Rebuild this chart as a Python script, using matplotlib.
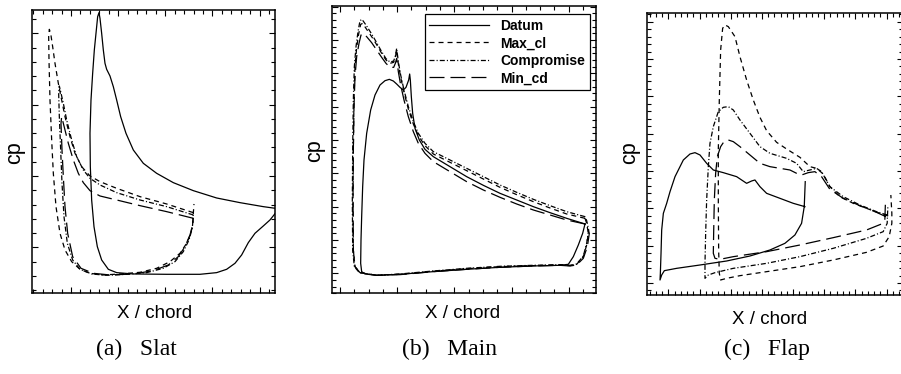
import matplotlib
matplotlib.use("Agg")
import matplotlib.pyplot as plt
from matplotlib.ticker import MultipleLocator

plt.rcParams['font.family'] = ['Liberation Sans', 'DejaVu Sans']
plt.rcParams['lines.scale_dashes'] = False

# ---- Slat surface pressure ----
slat_datum_x = [0.826, 0.790, 0.720, 0.650, 0.580, 0.520, 0.470, 0.430, 0.400, 0.378, 0.362, 0.350,
                0.340, 0.330, 0.320, 0.315, 0.310, 0.305, 0.300, 0.297, 0.293, 0.288, 0.283, 0.278,
                0.273, 0.270, 0.271, 0.275, 0.282, 0.292, 0.305, 0.325, 0.350, 0.400, 0.500, 0.600,
                0.650, 0.680, 0.705, 0.725, 0.745, 0.765, 0.790, 0.810, 0.826]
slat_datum_cp = [-0.95, -1.00, -1.12, -1.26, -1.48, -1.72, -2.00, -2.30, -2.70, -3.20, -3.70, -4.20,
                 -4.60, -4.92, -5.12, -5.30, -5.70, -6.20, -6.65, -6.82, -6.70, -6.20, -5.70, -5.00,
                 -4.20, -3.20, -2.20, -1.20, -0.40, 0.20, 0.60, 0.88, 0.98, 1.02, 1.03, 1.03,
                 0.98, 0.88, 0.70, 0.45, 0.08, -0.20, -0.42, -0.60, -0.80]
slat_maxcl_x = [0.580, 0.500, 0.420, 0.350, 0.300, 0.270, 0.245, 0.225, 0.210, 0.195, 0.185, 0.175,
                0.165, 0.158, 0.152, 0.148, 0.146, 0.147, 0.150, 0.155, 0.160, 0.168, 0.180, 0.195,
                0.215, 0.240, 0.270, 0.310, 0.360, 0.420, 0.470, 0.510, 0.540, 0.560, 0.573, 0.578,
                0.580, 0.582]
slat_maxcl_cp = [-0.82, -1.08, -1.30, -1.55, -1.75, -1.92, -2.20, -2.60, -3.10, -3.70, -4.20, -4.70,
                 -5.30, -5.80, -6.20, -6.32, -6.10, -5.40, -4.20, -3.00, -2.00, -1.00, -0.20, 0.30,
                 0.65, 0.88, 1.00, 1.05, 1.02, 0.97, 0.85, 0.65, 0.40, 0.10, -0.20, -0.50,
                 -0.80, -1.08]
slat_comp_x = [0.580, 0.500, 0.420, 0.350, 0.300, 0.270, 0.250, 0.230, 0.215, 0.200, 0.190, 0.182,
               0.178, 0.176, 0.178, 0.182, 0.186, 0.192, 0.202, 0.218, 0.240, 0.275, 0.320, 0.380,
               0.440, 0.490, 0.525, 0.550, 0.567, 0.577, 0.580]
slat_comp_cp = [-0.75, -1.00, -1.20, -1.42, -1.65, -1.85, -2.10, -2.50, -3.00, -3.60, -4.10, -4.45,
                -4.62, -4.40, -3.70, -2.70, -1.70, -0.70, 0.10, 0.60, 0.88, 1.02, 1.06, 1.03,
                0.98, 0.85, 0.65, 0.35, 0.00, -0.35, -0.75]
slat_mincd_x = [0.580, 0.500, 0.420, 0.350, 0.300, 0.270, 0.250, 0.235, 0.220, 0.205, 0.195, 0.188,
                0.185, 0.183, 0.186, 0.190, 0.195, 0.203, 0.218, 0.243, 0.280, 0.330, 0.400, 0.460,
                0.505, 0.535, 0.555, 0.570, 0.578, 0.580]
slat_mincd_cp = [-0.65, -0.85, -1.03, -1.20, -1.32, -1.48, -1.72, -2.00, -2.40, -2.90, -3.30, -3.58,
                 -3.70, -3.50, -2.70, -1.90, -1.00, -0.20, 0.50, 0.85, 1.00, 1.05, 1.02, 0.92,
                 0.75, 0.50, 0.20, -0.15, -0.45, -0.65]

# ---- Main element surface pressure ----
main_datum_x = [0.855, 0.800, 0.750, 0.700, 0.650, 0.600, 0.550, 0.500, 0.450, 0.400, 0.375, 0.358,
                0.345, 0.338, 0.334, 0.331, 0.329, 0.326, 0.318, 0.310, 0.300, 0.290, 0.280, 0.268,
                0.255, 0.240, 0.225, 0.212, 0.200, 0.192, 0.188, 0.185, 0.183, 0.182, 0.185, 0.195,
                0.230, 0.300, 0.400, 0.500, 0.600, 0.700, 0.780, 0.805, 0.820, 0.835, 0.848, 0.855]
main_datum_cp = [-0.48, -0.65, -0.82, -1.00, -1.20, -1.40, -1.64, -1.90, -2.20, -2.50, -2.72, -3.00,
                 -3.35, -3.80, -4.30, -4.80, -4.98, -4.80, -4.58, -4.50, -4.58, -4.68, -4.77, -4.82,
                 -4.78, -4.65, -4.35, -3.90, -3.20, -2.40, -1.60, -0.70, 0.00, 0.70, 0.95, 1.02,
                 1.06, 1.03, 0.95, 0.88, 0.82, 0.78, 0.76, 0.73, 0.50, 0.15, -0.20, -0.48]
main_maxcl_x = [0.855, 0.800, 0.750, 0.700, 0.650, 0.600, 0.550, 0.500, 0.450, 0.400, 0.375, 0.355,
                0.340, 0.325, 0.312, 0.302, 0.295, 0.290, 0.286, 0.281, 0.270, 0.258, 0.245, 0.230,
                0.215, 0.200, 0.188, 0.182, 0.176, 0.170, 0.165, 0.162, 0.160, 0.159, 0.160, 0.165,
                0.180, 0.230, 0.300, 0.400, 0.500, 0.600, 0.700, 0.780, 0.810, 0.830, 0.850, 0.860,
                0.865, 0.860, 0.855]
main_maxcl_cp = [-0.65, -0.78, -0.96, -1.15, -1.36, -1.58, -1.83, -2.08, -2.33, -2.58, -2.83, -3.13,
                 -3.48, -3.93, -4.43, -4.88, -5.28, -5.70, -5.48, -5.33, -5.30, -5.40, -5.60, -5.86,
                 -6.10, -6.32, -6.50, -6.47, -6.18, -5.78, -5.20, -4.20, -2.70, -1.20, 0.30, 0.80,
                 0.98, 1.06, 1.03, 0.94, 0.86, 0.80, 0.77, 0.75, 0.77, 0.73, 0.50, 0.15,
                 -0.20, -0.50, -0.65]
main_comp_x = [0.855, 0.800, 0.750, 0.700, 0.650, 0.600, 0.550, 0.500, 0.450, 0.400, 0.375, 0.355,
               0.340, 0.325, 0.312, 0.302, 0.295, 0.290, 0.286, 0.281, 0.270, 0.258, 0.245, 0.230,
               0.215, 0.200, 0.186, 0.180, 0.174, 0.168, 0.163, 0.160, 0.158, 0.157, 0.158, 0.163,
               0.178, 0.230, 0.300, 0.400, 0.500, 0.600, 0.700, 0.780, 0.810, 0.830, 0.850, 0.860,
               0.866, 0.860, 0.855]
main_comp_cp = [-0.70, -0.85, -1.03, -1.22, -1.43, -1.65, -1.90, -2.15, -2.40, -2.65, -2.90, -3.20,
                -3.55, -4.00, -4.50, -4.95, -5.35, -5.75, -5.52, -5.37, -5.34, -5.44, -5.65, -5.92,
                -6.18, -6.42, -6.62, -6.58, -6.25, -5.80, -5.20, -4.20, -2.70, -1.20, 0.30, 0.80,
                0.98, 1.06, 1.02, 0.93, 0.85, 0.79, 0.76, 0.74, 0.76, 0.72, 0.48, 0.10,
                -0.30, -0.58, -0.70]
main_mincd_x = [0.855, 0.800, 0.750, 0.700, 0.650, 0.600, 0.550, 0.500, 0.450, 0.400, 0.375, 0.355,
                0.340, 0.325, 0.312, 0.302, 0.295, 0.290, 0.286, 0.281, 0.270, 0.258, 0.245, 0.230,
                0.215, 0.200, 0.190, 0.183, 0.177, 0.170, 0.165, 0.162, 0.160, 0.159, 0.160, 0.165,
                0.180, 0.230, 0.300, 0.400, 0.500, 0.600, 0.700, 0.780, 0.810, 0.830, 0.850, 0.862,
                0.868, 0.862, 0.855]
main_mincd_cp = [-0.48, -0.60, -0.75, -0.90, -1.08, -1.28, -1.50, -1.75, -2.05, -2.35, -2.60, -2.90,
                 -3.25, -3.70, -4.20, -4.65, -5.05, -5.45, -5.30, -5.18, -5.18, -5.30, -5.48, -5.70,
                 -5.92, -6.10, -6.20, -6.15, -5.90, -5.50, -4.90, -4.00, -2.70, -1.20, 0.30, 0.80,
                 0.98, 1.06, 1.04, 0.95, 0.88, 0.82, 0.78, 0.76, 0.78, 0.75, 0.55, 0.20,
                 -0.20, -0.40, -0.48]

# ---- Flap surface pressure ----
flap_datum_x = [0.615, 0.580, 0.540, 0.500, 0.480, 0.465, 0.455, 0.440, 0.410, 0.370, 0.340, 0.320,
                0.300, 0.285, 0.270, 0.250, 0.225, 0.210, 0.200, 0.190, 0.185, 0.183, 0.181, 0.180,
                0.185, 0.193, 0.230, 0.300, 0.380, 0.450, 0.510, 0.555, 0.585, 0.605, 0.613, 0.615,
                0.616]
flap_datum_cp = [-1.00, -1.10, -1.25, -1.40, -1.60, -1.80, -1.77, -1.70, -1.90, -2.02, -2.10, -2.30,
                 -2.55, -2.62, -2.58, -2.40, -1.90, -1.45, -1.10, -0.80, -0.30, 0.40, 1.00, 1.20,
                 1.05, 0.92, 0.85, 0.75, 0.63, 0.48, 0.30, 0.10, -0.15, -0.50, -1.00, -1.50,
                 -1.75]
flap_maxcl_x = [0.865, 0.840, 0.800, 0.760, 0.720, 0.690, 0.670, 0.650, 0.630, 0.600, 0.560, 0.530,
                0.500, 0.480, 0.460, 0.440, 0.420, 0.405, 0.395, 0.385, 0.375, 0.368, 0.362, 0.358,
                0.355, 0.355, 0.356, 0.358, 0.362, 0.380, 0.420, 0.500, 0.600, 0.700, 0.800, 0.850,
                0.868, 0.876, 0.876, 0.873]
flap_maxcl_cp = [-0.72, -0.80, -0.95, -1.10, -1.30, -1.60, -1.98, -2.15, -2.20, -2.48, -2.73, -2.93,
                 -3.28, -3.68, -4.20, -4.80, -5.50, -6.10, -6.25, -6.40, -6.45, -6.35, -5.70, -4.20,
                 -2.70, -1.20, 0.30, 1.00, 1.20, 1.15, 1.07, 0.95, 0.80, 0.60, 0.37, 0.18,
                 -0.10, -0.50, -0.80, -1.35]
flap_comp_x = [0.862, 0.830, 0.780, 0.730, 0.690, 0.665, 0.650, 0.630, 0.610, 0.590, 0.560, 0.510,
               0.480, 0.450, 0.420, 0.400, 0.385, 0.370, 0.355, 0.340, 0.330, 0.325, 0.320, 0.317,
               0.315, 0.315, 0.325, 0.345, 0.400, 0.500, 0.600, 0.700, 0.800, 0.850, 0.862, 0.864]
flap_comp_cp = [-0.75, -0.85, -1.05, -1.30, -1.60, -2.05, -2.15, -2.10, -2.05, -2.30, -2.45, -2.60,
                -2.80, -3.20, -3.60, -3.90, -4.00, -3.98, -3.85, -3.40, -2.90, -2.20, -1.20, -0.20,
                0.70, 1.15, 1.05, 0.98, 0.85, 0.70, 0.50, 0.25, -0.05, -0.25, -0.50, -1.00]
flap_mincd_x = [0.858, 0.830, 0.780, 0.730, 0.690, 0.665, 0.645, 0.625, 0.605, 0.590, 0.570, 0.540,
                0.510, 0.480, 0.450, 0.420, 0.400, 0.385, 0.372, 0.362, 0.352, 0.347, 0.343, 0.341,
                0.340, 0.345, 0.360, 0.400, 0.500, 0.600, 0.700, 0.800, 0.845, 0.855, 0.857]
flap_mincd_cp = [-0.70, -0.83, -1.03, -1.25, -1.52, -1.90, -2.05, -2.02, -1.95, -2.00, -2.10, -2.15,
                 -2.20, -2.30, -2.55, -2.80, -2.95, -3.00, -2.95, -2.80, -2.50, -2.00, -1.20, -0.20,
                 0.40, 0.55, 0.58, 0.50, 0.35, 0.15, -0.07, -0.30, -0.48, -0.60, -1.20]

labels = ['Datum', 'Max_cl', 'Compromise', 'Min_cd']
captions = ['(a)   Slat', '(b)   Main', '(c)   Flap']

styles = [
    dict(linestyle='-'),
    dict(linestyle=(0, (3.6, 2.9))),
    dict(linestyle=(0, (3.6, 1.5, 0.8, 1.5))),
    dict(linestyle=(0, (10.8, 4.3))),
]

W, H = 901, 374
fig = plt.figure(figsize=(W / 100, H / 100), dpi=100)


def add_panel(frame, xlim, ylim, xmajor, ymajor):
    x0, y0, x1, y1 = frame
    ax = fig.add_axes([x0 / W, 1 - y1 / H, (x1 - x0) / W, (y1 - y0) / H])
    ax.set_xlim(*xlim)
    ax.set_ylim(*ylim)
    ax.xaxis.set_major_locator(MultipleLocator(xmajor[0], xmajor[1]))
    ax.xaxis.set_minor_locator(MultipleLocator(xmajor[0] / xmajor[2], xmajor[1]))
    ax.yaxis.set_major_locator(MultipleLocator(ymajor[0], ymajor[1]))
    ax.yaxis.set_minor_locator(MultipleLocator(ymajor[0] / ymajor[2], ymajor[1]))
    ax.tick_params(which='both', direction='in', top=True, right=True,
                   labelbottom=False, labelleft=False, width=0.8, color='black')
    ax.tick_params(which='major', length=4.5)
    ax.tick_params(which='minor', length=2.6)
    for s in ax.spines.values():
        s.set_linewidth(1.1)
    return ax


ax_a = add_panel((32, 10, 275.3, 293.3), (0.096, 0.826), (1.60, -6.90),
                 (0.1415, 0.0715, 5), (2.14, 0.22, 5))
ax_b = add_panel((332, 5.7, 596, 293.3), (0.096, 0.888), (1.60, -7.03),
                 (0.1715, 0.120, 4), (1.0, 0.0, 5))
ax_c = add_panel((646.7, 13.3, 902.5, 295), (0.140, 0.908), (1.65, -6.80),
                 (0.0936, 0.0178, 5), (1.12, 0.17, 5))

panels = [
    (ax_a, [(slat_datum_x, slat_datum_cp), (slat_maxcl_x, slat_maxcl_cp),
            (slat_comp_x, slat_comp_cp), (slat_mincd_x, slat_mincd_cp)]),
    (ax_b, [(main_datum_x, main_datum_cp), (main_maxcl_x, main_maxcl_cp),
            (main_comp_x, main_comp_cp), (main_mincd_x, main_mincd_cp)]),
    (ax_c, [(flap_datum_x, flap_datum_cp), (flap_maxcl_x, flap_maxcl_cp),
            (flap_comp_x, flap_comp_cp), (flap_mincd_x, flap_mincd_cp)]),
]

for ax, curves in panels:
    for (x, cp), st, lab in zip(curves, styles, labels):
        ax.plot(x, cp, color='black', lw=0.9, label=lab, **st)

leg = ax_b.legend(loc='upper right', bbox_to_anchor=(590 / W, 1 - 14 / H),
                  bbox_transform=fig.transFigure, borderaxespad=0,
                  prop={'weight': 'bold', 'size': 10}, handlelength=4.3,
                  handletextpad=0.8, labelspacing=0.25, borderpad=0.35,
                  fancybox=False, framealpha=1, edgecolor='black')
leg.get_frame().set_linewidth(0.9)

# axis titles
for xc, yc in [(15, 153), (315, 151), (630, 153)]:
    fig.text(xc / W, 1 - yc / H, 'cp', rotation=90, ha='center', va='center', fontsize=15.5)
for xc, yc in [(155, 313), (463, 313), (770, 320)]:
    fig.text(xc / W, 1 - yc / H, 'X / chord', ha='center', va='center', fontsize=13.5)

for xc, txt in zip([136, 450, 767], captions):
    fig.text(xc / W, 1 - 349 / H, txt, ha='center', va='center', fontsize=17,
             family=['Liberation Serif', 'DejaVu Serif'])

fig.savefig('out.png', dpi=100)
